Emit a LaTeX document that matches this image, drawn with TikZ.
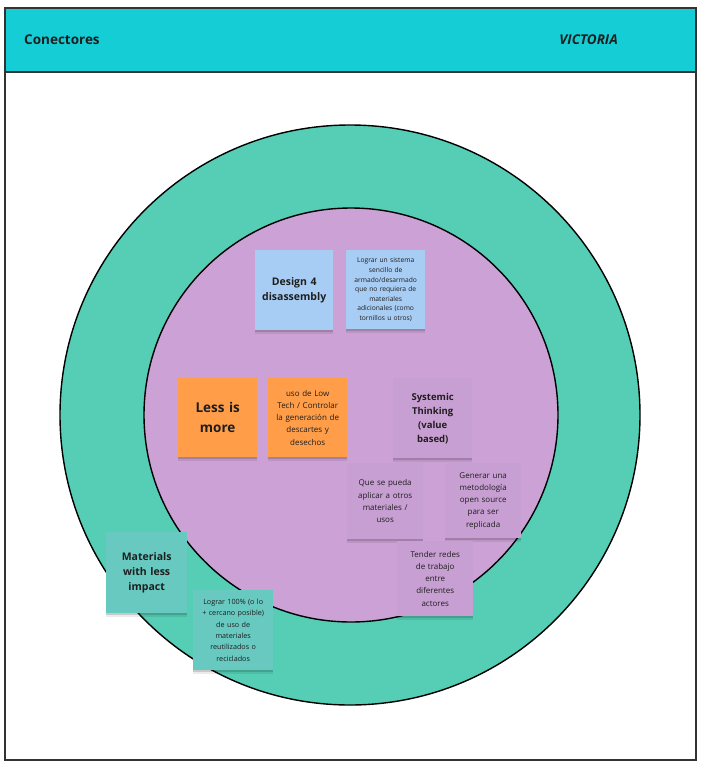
\documentclass[tikz,border=0pt]{standalone}
\usepackage{fontspec}
\setmainfont{Open Sans}
\definecolor{hdr}{HTML}{15CDD5}
\definecolor{ring}{HTML}{55CEB5}
\definecolor{inner}{HTML}{CCA1D5}
\definecolor{bluenote}{HTML}{A8CDF4}
\definecolor{orangenote}{HTML}{FF9D48}
\definecolor{purplenote}{HTML}{C89FD2}
\definecolor{tealnote}{HTML}{67C9C0}
\definecolor{txt}{HTML}{1E1E1E}
\definecolor{frame}{HTML}{333333}
\tikzset{
  stickynote/.style={anchor=north west, minimum width=#1, minimum height=#1, text width=70pt,
    align=center, inner sep=2pt, text=txt,
    preaction={fill=black, fill opacity=0.08, transform canvas={yshift=-4pt}},
    preaction={fill=black, fill opacity=0.14, transform canvas={yshift=-2pt}}},
  stickynote/.default=79pt,
  bignote/.style={font=\bfseries\fontsize{10.5}{15}\selectfont},
  smallnote/.style={font=\fontsize{8}{12.2}\selectfont},
  tinynote/.style={font=\fontsize{6.7}{9.6}\selectfont},
  ringline/.style={draw=black, line width=1.4pt}
}
\begin{document}
\begin{tikzpicture}[x=1pt,y=-1pt]
\useasboundingbox (0,0) rectangle (708,769);
\fill[white] (0,0) rectangle (708,769);
% frame and header
\draw[frame, line width=2pt, fill=white] (5,8) rectangle (696,760);
\draw[frame, line width=2pt, fill=hdr] (5,8) rectangle (696,72);
\node[anchor=west, inner sep=0pt, text=txt, font=\bfseries\fontsize{13.5}{16}\selectfont] (title) at (24,40) {Conectores};
\node[anchor=east, inner sep=0pt, text=txt, font=\bfseries\itshape\fontsize{13.5}{16}\selectfont] (author) at (618,40) {VICTORIA};
% circles
\draw[ringline, fill=ring] (350,415) circle[radius=290pt];
\draw[ringline, fill=inner] (351,415) circle[radius=207pt];
% notes
\node[stickynote, fill=bluenote, bignote, minimum height=80pt, minimum width=78pt] (d4d) at (255,250) {Design 4\\disassembly};
\node[stickynote, fill=bluenote, tinynote] (sist) at (346,250) {Lograr un sistema\\sencillo de\\armado/desarmado\\que no requiera de\\materiales\\adicionales (como\\tornillos u otros)};
\node[stickynote, fill=orangenote, font=\bfseries\fontsize{13.5}{20}\selectfont] (less) at (178,378) {Less is\\more};
\node[stickynote, fill=orangenote, smallnote] (low) at (268,378) {uso de Low\\Tech / Controlar\\la generación de\\descartes y\\desechos};
\node[stickynote, fill=purplenote, font=\bfseries\fontsize{9.5}{14}\selectfont, minimum height=80pt] (sys) at (393,378) {Systemic\\Thinking\\(value\\based)};
\node[stickynote=76pt, fill=purplenote, smallnote, text width=72pt] (que) at (347,463) {Que se pueda\\aplicar a otros\\materiales /\\usos};
\node[stickynote=75pt, fill=purplenote, smallnote, text width=72pt] (gen) at (445,463) {Generar una\\metodología\\open source\\para ser\\replicada};
\node[stickynote=75pt, fill=purplenote, smallnote, text width=72pt] (redes) at (397,541) {Tender redes\\de trabajo\\entre\\diferentes\\actores};
\node[stickynote=81pt, fill=tealnote, bignote] (mat) at (106,532) {Materials\\with less\\impact};
\node[stickynote=80pt, fill=tealnote, font=\fontsize{7.2}{11.3}\selectfont] (reuse) at (193,590) {Lograr 100\% (o lo\\+ cercano posible)\\de uso de\\materiales\\reutilizados o\\reciclados};
\end{tikzpicture}
\end{document}
